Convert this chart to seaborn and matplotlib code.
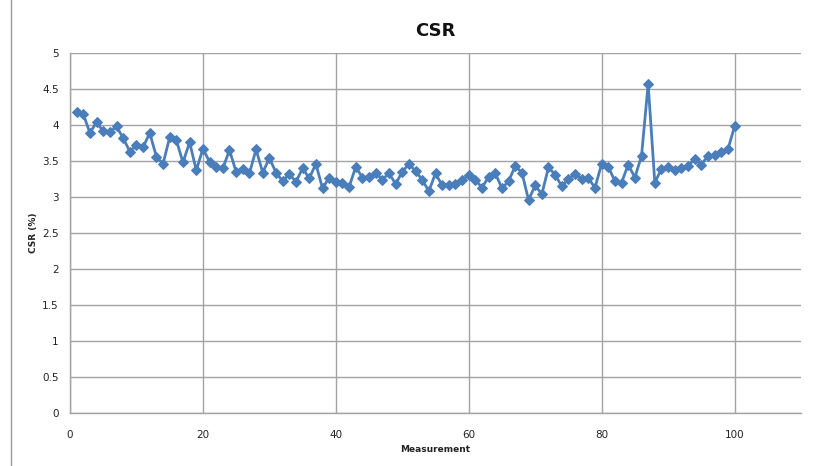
import numpy as np
import pandas as pd
import matplotlib
matplotlib.use("Agg")
import matplotlib.pyplot as plt
from matplotlib.lines import Line2D
import seaborn as sns

# Measurement index and CSR readings (%)
measurement = list(range(1, 101))
csr = [
    4.18, 4.15, 3.89, 4.04, 3.91, 3.90, 3.98, 3.82, 3.63, 3.72,
    3.69, 3.89, 3.56, 3.46, 3.83, 3.79, 3.48, 3.76, 3.37, 3.67,
    3.49, 3.41, 3.40, 3.65, 3.35, 3.39, 3.33, 3.66, 3.34, 3.54,
    3.34, 3.22, 3.32, 3.21, 3.40, 3.26, 3.46, 3.12, 3.27, 3.21,
    3.19, 3.14, 3.42, 3.27, 3.28, 3.34, 3.24, 3.33, 3.18, 3.35,
    3.46, 3.36, 3.24, 3.08, 3.33, 3.16, 3.16, 3.18, 3.24, 3.30,
    3.24, 3.13, 3.28, 3.33, 3.12, 3.22, 3.43, 3.34, 2.96, 3.16,
    3.04, 3.41, 3.31, 3.15, 3.25, 3.32, 3.25, 3.26, 3.13, 3.46,
    3.42, 3.22, 3.20, 3.45, 3.27, 3.57, 4.57, 3.20, 3.39, 3.41,
    3.38, 3.40, 3.43, 3.53, 3.45, 3.57, 3.58, 3.62, 3.66, 3.98,
]
x_ticks = [0, 20, 40, 60, 80, 100]
y_ticks = [0, 0.5, 1, 1.5, 2, 2.5, 3, 3.5, 4, 4.5, 5]

df = pd.DataFrame({"Measurement": measurement, "CSR": csr})

sns.set_theme(style="white")
plt.rcParams["font.family"] = ["DejaVu Sans"]

fig = plt.figure(figsize=(8.13, 4.66), dpi=100)
ax = fig.add_axes([70 / 813, 1 - 413 / 466, 731 / 813, 360 / 466])

grid_c = "#a3a3a3"
line_c = "#4a7ebb"

sns.lineplot(data=df, x="Measurement", y="CSR", ax=ax, color=line_c,
             linewidth=2.0, marker="D", markersize=5,
             markeredgecolor=line_c, markerfacecolor=line_c, zorder=3)

ax.set_xlim(0, 110)
ax.set_ylim(0, 5)
ax.set_xticks(x_ticks)
ax.set_yticks(y_ticks)
ax.set_yticklabels([f"{v:g}" for v in y_ticks])
ax.grid(True, color=grid_c, linewidth=1.0, zorder=0)
ax.set_axisbelow(True)

for side in ("top", "right"):
    ax.spines[side].set_visible(False)
for side in ("left", "bottom"):
    ax.spines[side].set_color(grid_c)
    ax.spines[side].set_linewidth(1.0)

ax.tick_params(axis="both", which="major", length=4, width=1.0, color=grid_c,
               labelsize=7.5, labelcolor="#222222", direction="out", pad=4)
ax.tick_params(axis="x", pad=8)

ax.set_title("CSR", fontsize=13, fontweight="bold", pad=12, color="#111111")
ax.set_xlabel("Measurement", fontsize=6.5, fontweight="bold", labelpad=4,
              color="#222222")
ax.set_ylabel("CSR (%)", fontsize=6.5, fontweight="bold", labelpad=3,
              color="#222222")

# thin chart-area border on the left edge
fig.add_artist(Line2D([10.5 / 813, 10.5 / 813], [0, 1], transform=fig.transFigure,
                      color="#9a9a9a", linewidth=1.0))

fig.savefig("out.png", dpi=100)
